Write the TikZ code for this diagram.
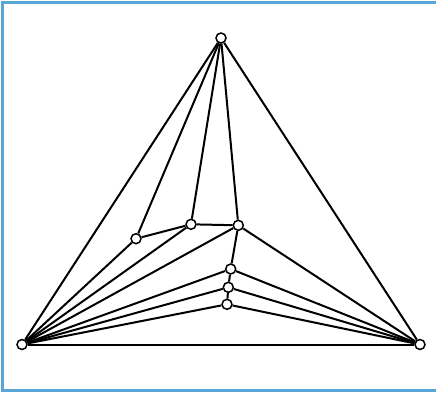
\documentclass[tikz,border=0pt]{standalone}
\definecolor{framecol}{HTML}{58A6D6}
\begin{document}
\begin{tikzpicture}[x=1pt,y=-1pt,
  vtx/.style={circle,draw=black,fill=white,line width=1.5pt,inner sep=0pt,minimum size=10pt},
  edge/.style={line width=2pt,black}]
\useasboundingbox (0,0) rectangle (436,392);
\draw[framecol,line width=2.4pt] (440,2.5) -- (2.5,2.5) -- (2.5,390.5) -- (440,390.5);
\node[vtx] (T) at (221,38) {};
\node[vtx] (L) at (22,344.5) {};
\node[vtx] (R) at (420,344.5) {};
\node[vtx] (a) at (136,238.7) {};
\node[vtx] (b) at (191,224.3) {};
\node[vtx] (c) at (238.3,225.3) {};
\node[vtx] (d) at (230.7,269) {};
\node[vtx] (e) at (228.3,287.3) {};
\node[vtx] (f) at (227,304.3) {};
\foreach \u/\v in {T/L,T/R,L/R,T/a,T/b,T/c,a/b,b/c,a/L,b/L,c/L,c/R,c/d,d/L,d/R,d/e,e/L,e/R,e/f,f/L,f/R}
  \draw[edge] (\u) -- (\v);
\end{tikzpicture}
\end{document}
